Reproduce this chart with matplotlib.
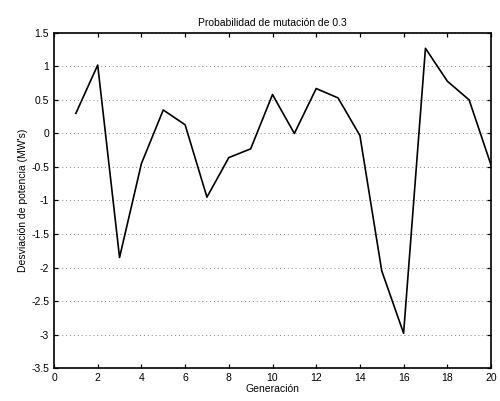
import numpy as np
import matplotlib
matplotlib.use("Agg")
import matplotlib.pyplot as plt

# generacion vs desviacion de potencia
generacion = np.arange(1, 21)
desviacion = [0.30, 1.02, -1.85, -0.45, 0.35, 0.13, -0.95, -0.36, -0.23, 0.58,
              0.00, 0.67, 0.53, -0.03, -2.05, -2.98, 1.27, 0.78, 0.50, -0.47]

plt.rcParams['font.family'] = ['Liberation Sans', 'DejaVu Sans']

fig = plt.figure(figsize=(5, 4.01), dpi=100)
ax = fig.add_axes([0.108, 0.082, 0.874, 0.836])
ax.plot(generacion, desviacion, color='black', lw=1.2)

ax.set_xlim(0, 20)
ax.set_ylim(-3.5, 1.5)
ax.set_xticks(np.arange(0, 21, 2))
ax.set_yticks(np.arange(-3.5, 1.51, 0.5))
ax.set_yticklabels(['-3.5', '-3', '-2.5', '-2', '-1.5', '-1', '-0.5', '0', '0.5', '1', '1.5'])
ax.yaxis.grid(True, linestyle=(0, (1, 3)), color='#888888', lw=0.7)
ax.tick_params(direction='in', length=3, labelsize=7.5, top=True, right=True, width=0.9)
for s in ax.spines.values():
    s.set_linewidth(1.2)

ax.set_title('Probabilidad de mutación de 0.3', fontsize=7.5, pad=5)
ax.set_xlabel('Generación', fontsize=7.5, labelpad=1)
ax.set_ylabel("Desviación de potencia (MW's)", fontsize=7.5, labelpad=2)

fig.savefig('out.png', dpi=100)
